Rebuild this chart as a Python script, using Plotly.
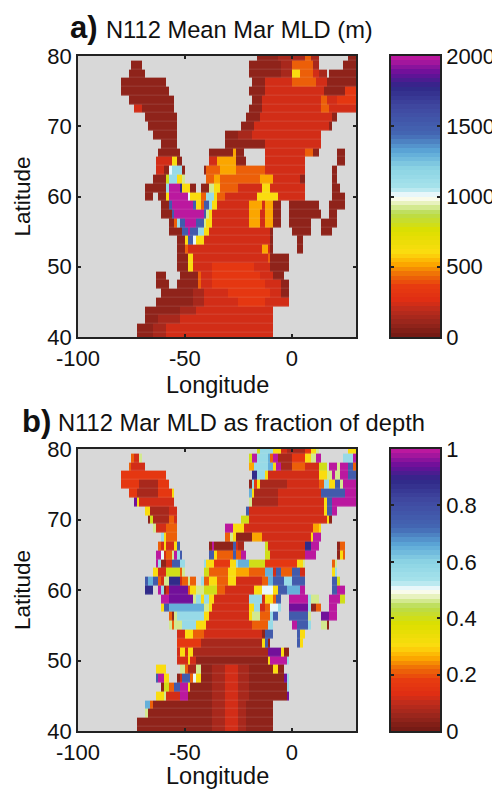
import re
import numpy as np
import plotly.graph_objects as go

# one row per latitude (north to south); token = level code + last column of the run
latitudes = [80 - 1.25 * k for k in range(33)]
longitudes = [-100 + 1.25 * (i + 0.5) for i in range(104)]
level_values = dict(a=85, b=135, c=225, d=320, e=430, f=530, g=620, h=800, i=930,
                    j=1000, k=1130, l=1300, m=1500, n=1750, o=1900, p=2000)

mld_rows = [
 ".67 a75 b85 e87 b90 .101 a104",
 ".20 a24 .64 a76 b80 e88 b90 .99 a104",
 ".19 a25 .64 a76 b80 g83 e88 c90 b93 .94 a104",
 ".16 a33 .65 a70 c80 e89 c93 a104",
 ".16 a34 .64 a70 c92 a100 d104",
 ".19 a36 .65 a69 c91 e93 c97 d104",
 ".21 c24 a36 .64 a69 c91 e94 c104",
 ".25 a37 .63 a68 c95 a97",
 ".26 a37 .61 a66 c94 a95",
 ".28 a37 .55 a60 b65 c91",
 ".31 a37 .55 a70 c91",
 ".30 a38 .49 a58 f59 a62 .70 c85 e88 a90 .97 a100",
 ".29 c35 g37 a39 .49 c52 f59 a63 .70 c85 .97 a100",
 ".29 c32 a34 j35 k39 a40 .47 a48 e53 f59 e70 c85 .95 a97",
 ".28 a33 h34 k37 g39 i40 .48 e51 f53 e68 f73 c83 a85 .95 a97",
 ".25 a33 k34 p38 n39 g42 a44 .46 a49 i51 g53 e60 c69 g72 c85 .95 a98",
 ".25 a28 .30 a33 g34 p41 j42 g46 e48 k51 g52 e55 c67 g75 c85 .95 a100",
 ".31 a34 m35 p43 m44 g46 e47 m49 k50 g52 c64 f69 c70 f73 a76 .79 a90 .94 a100",
 ".31 a35 m36 p47 m48 i49 g50 c64 f68 c70 f73 a76 .79 a91 .94 a97",
 ".34 a36 e37 k38 m40 p44 m47 i48 g50 c64 f68 c70 f73 a76 .79 a87 .91 a97",
 ".34 a39 m41 p42 m45 k47 g49 c72 a73 .80 a87 .91 a95",
 ".37 a40 g41 m43 j44 g47 c72 a73 .82 a84",
 ".37 a40 e41 c69 f71 c72 a73 .82 a84",
 ".37 a41 g43 c71 e72 a79",
 ".37 a41 g43 c50 d66 c72 a79",
 ".29 a33 .38 a45 e46 c50 d68 c73 a77",
 ".29 a34 .37 a45 e46 c50 d70 c76 a79",
 ".31 a43 b47 c56 d72 c76 a79",
 ".29 a43 b47 c60 d70 c79",
 ".25 a38 b44 c73",
 ".25 a30 b38 c73",
 ".22 a28 b33 c73",
 ".22 a28 b33 c73",
]

fraction_rows = [
 ".67 h68 k73 g76 c78 b85 d87 g89 i90 .101 g104",
 ".20 e21 c23 i24 .64 h65 p67 k71 l72 e73 p75 b80 d85 g87 i89 p91 .99 k103 p104",
 ".19 e20 c25 .64 f66 k71 l73 g74 p76 b80 e85 c90 h93 .94 p97 i98 p101 m103 e104",
 ".16 d33 .65 n67 k70 g71 c90 g93 i95 p96 i98 p101 m104",
 ".16 d23 b30 d34 .64 a65 k66 d67 g68 b78 c90 e92 k94 g96 m98 i99 p104",
 ".19 d22 b30 d35 g36 .64 l65 g66 b75 c91 m100 p104",
 ".21 o22 g23 c36 .64 i65 b75 c92 g93 m95 p104",
 ".25 g27 b34 c37 .63 m64 c92 g93 m95 p97",
 ".26 a27 h28 b34 e36 c37 .61 h64 c93 g94 a95",
 ".28 i29 c33 e37 .55 p58 g62 c88 f90 g91",
 ".31 k32 g33 e37 .55 e57 i58 g59 a65 f69 c87 g88 p91",
 ".30 e31 c32 g33 c36 g37 m38 .49 a50 p51 a58 m59 c60 b62 .70 h71 c85 n87 p90 .97 a98 e100",
 ".29 p31 j32 c33 e35 i36 p37 k38 m39 .49 m51 g52 e58 m59 e61 p63 .70 h72 c85 p89 .97 a98 g99 e100",
 ".29 p30 k31 a33 c35 m38 k40 .47 k48 g51 d57 g59 k60 l64 h70 d82 g84 i85 .95 e96 i97",
 ".28 g30 c33 h38 e39 i40 .47 h49 e56 g59 f64 e70 l73 c74 m76 e80 m83 c85 .95 g96 k97",
 ".25 m26 l28 m30 e31 c32 i34 n38 c39 e41 i42 e44 .46 k47 e49 g52 e56 g59 c69 e71 l73 m77 k80 m85 .95 m97 h98",
 ".25 n28 .30 p31 k32 a33 c34 o41 e42 g44 i47 h52 e55 c66 g69 j73 g75 m78 l83 p85 .95 m97 p100",
 ".31 p34 o43 i44 k46 g47 k49 g51 c64 k69 c70 g73 e74 m76 .79 p86 k87 i90 .94 p98 h100",
 ".31 g32 m34 l47 i49 g50 c64 g66 k68 c70 e72 j75 k76 .79 o86 k87 a89 e91 .94 p97",
 ".34 e35 a36 i37 k47 g49 c64 g65 i68 e72 k73 m75 .79 m86 i87 .91 o94 p97",
 ".34 i35 e36 i39 k44 g48 c65 e71 k73 .80 p82 m86 k87 .91 i93 a94",
 ".37 c40 g43 e47 c69 a70 m73 .82 m83 g85",
 ".37 d46 b69 g70 m71 a72 .82 m83 g84",
 ".37 c38 g40 c41 g43 b71 o76 g77 a79",
 ".37 c41 g42 c44 a71 g72 p78 k79",
 ".29 g33 .38 i40 e41 b44 i46 a50 b55 c60 b64 a73 g75 a77",
 ".29 m30 p32 g34 .37 a38 c39 m42 e43 j44 g46 a50 b55 c60 b64 a77 o78 k79",
 ".31 a32 h34 e36 m38 p41 g42 a50 b55 c60 b64 a78 k79",
 ".29 g32 i33 c38 p41 a50 b55 c60 b64 a78 o79",
 ".25 l27 e28 a50 b55 c60 b63 a73",
 ".25 i26 a50 b55 c60 b63 a73",
 ".22 a50 b55 c60 b63 a73",
 ".22 a50 b55 c60 b63 a73",
]

colour_stops = [(0, "#701a14"), (.05, "#98261c"), (.1, "#c02c1c"), (.13, "#e02e14"), (.18, "#e83c10"),
                (.22, "#ee6a08"), (.26, "#fcaa00"), (.3, "#fcdc10"), (.38, "#dce000"), (.44, "#b8dc50"),
                (.485, "#f4f8d8"), (.5, "#ffffff"), (.53, "#a8e4ec"), (.6, "#8cd4e4"), (.66, "#5ca8d8"),
                (.72, "#4468b4"), (.82, "#4048a0"), (.89, "#302888"), (.94, "#6a109a"), (1, "#c81aa0")]


def decode(rows, scale):
    grid = np.full((len(rows), len(longitudes)), np.nan)
    for k, row in enumerate(rows):
        start = 0
        for code, end in re.findall(r"([.a-p])(\d+)", row):
            if code != ".":
                grid[k, start:int(end)] = level_values[code] * scale
            start = int(end)
    return grid


def rgb(hexcolour):
    return [int(hexcolour[i:i + 2], 16) for i in (1, 3, 5)]


positions = [s[0] for s in colour_stops]
channels = np.array([rgb(s[1]) for s in colour_stops])
bands = 64
colorscale = []
for b in range(bands):
    mid = (b + .5) / bands
    colour = "rgb(%d,%d,%d)" % tuple(np.interp(mid, positions, channels[:, c]) for c in range(3))
    colorscale += [[b / bands, colour], [(b + 1) / bands, colour]]

# the page keeps its 8 px body margin, so the figure starts at (8, 8)
PAGE = 8
W, H = 500 - PAGE, 790 - PAGE
px = lambda x: (x - PAGE) / W
py = lambda y: 1 - (y - PAGE) / H
L, R = 78, 356
CL, CR = 391, 440
panels = [(56, 337), (449, 731)]

fig = go.Figure()
tick_font = dict(family="Liberation Sans", size=22, color="#111")
axis_common = dict(
    showgrid=False, zeroline=False, ticks="inside", ticklen=3, tickwidth=1.5, tickcolor="#222",
    showline=True, linewidth=1.5, linecolor="#222", mirror="ticks", tickfont=tick_font,
    automargin=False,
)
layout_axes = {}
annotations = []

for n, ((top, bottom), rows, zmax, ticks, xlabel_y) in enumerate([
    (panels[0], mld_rows, 2000, [0, 500, 1000, 1500, 2000], 385),
    (panels[1], fraction_rows, 1, [0, .2, .4, .6, .8, 1], 776),
]):
    xa, ya = 2 * n + 1, 2 * n + 2          # map axes
    xc, yc = 5 + 2 * n, 6 + 2 * n          # colour bar axes
    fig.add_trace(go.Heatmap(
        x=longitudes, y=latitudes, z=decode(rows, zmax / 2000), zmin=0, zmax=zmax,
        colorscale=colorscale, ygap=0.15, hoverongaps=False, showscale=False,
        xaxis=f"x{xa}", yaxis=f"y{ya}",
    ))
    bar_levels = (np.arange(bands) + .5) / bands * zmax
    fig.add_trace(go.Heatmap(
        x=[0, 1], y=bar_levels, z=[[v, v] for v in bar_levels], zmin=0, zmax=zmax,
        colorscale=colorscale, showscale=False, xaxis=f"x{xc}", yaxis=f"y{yc}",
    ))
    dom_y = [py(bottom), py(top)]
    layout_axes[f"xaxis{xa}"] = dict(domain=[px(L), px(R)], anchor=f"y{ya}", range=[-100, 30],
                                     tickvals=[-100, -50, 0], ticktext=["-100", "-50", "0"],
                                     ticklabelstandoff=1, **axis_common)
    layout_axes[f"yaxis{ya}"] = dict(domain=dom_y, anchor=f"x{xa}", range=[40, 80],
                                     tickvals=[40, 50, 60, 70, 80], **axis_common)
    layout_axes[f"xaxis{xc}"] = dict(domain=[px(CL), px(CR)], anchor=f"y{yc}", range=[0, 1],
                                     showticklabels=False, tickvals=[], showgrid=False, zeroline=False,
                                     showline=True, linewidth=1.5, linecolor="#222", mirror=True, automargin=False)
    layout_axes[f"yaxis{yc}"] = dict(domain=dom_y, anchor=f"x{xc}", range=[0, zmax], side="right",
                                     tickvals=ticks, ticktext=[f"{t:g}" for t in ticks], **axis_common)
    mid_y = (top + bottom) / 2
    annotations.append(dict(x=px(217), y=py(xlabel_y), text="Longitude", font_size=23.5))
    annotations.append(dict(x=px(22), y=py(mid_y), text="Latitude", font_size=22.5, textangle=-90))

for x, y, text, size in [(68, 28, "<b>a)</b>", 31), (104, 30, "N112 Mean Mar MLD (m)", 23.7),
                         (20, 421, "<b>b)</b>", 31), (56, 423, "N112 Mar MLD as fraction of depth", 23.7)]:
    annotations.append(dict(x=px(x), y=py(y), text=text, font_size=size, xanchor="left"))

for a in annotations:
    a.update(xref="paper", yref="paper", showarrow=False, yanchor="middle",
             font=dict(family="Liberation Sans", size=a.pop("font_size"), color="#111"))
    a.setdefault("xanchor", "center")

fig.update_layout(
    width=W, height=H, margin=dict(l=0, r=0, t=0, b=0), autosize=False,
    paper_bgcolor="white", plot_bgcolor="#d8d8d8", showlegend=False,
    annotations=annotations, **layout_axes,
)
fig.write_html("out.html")
